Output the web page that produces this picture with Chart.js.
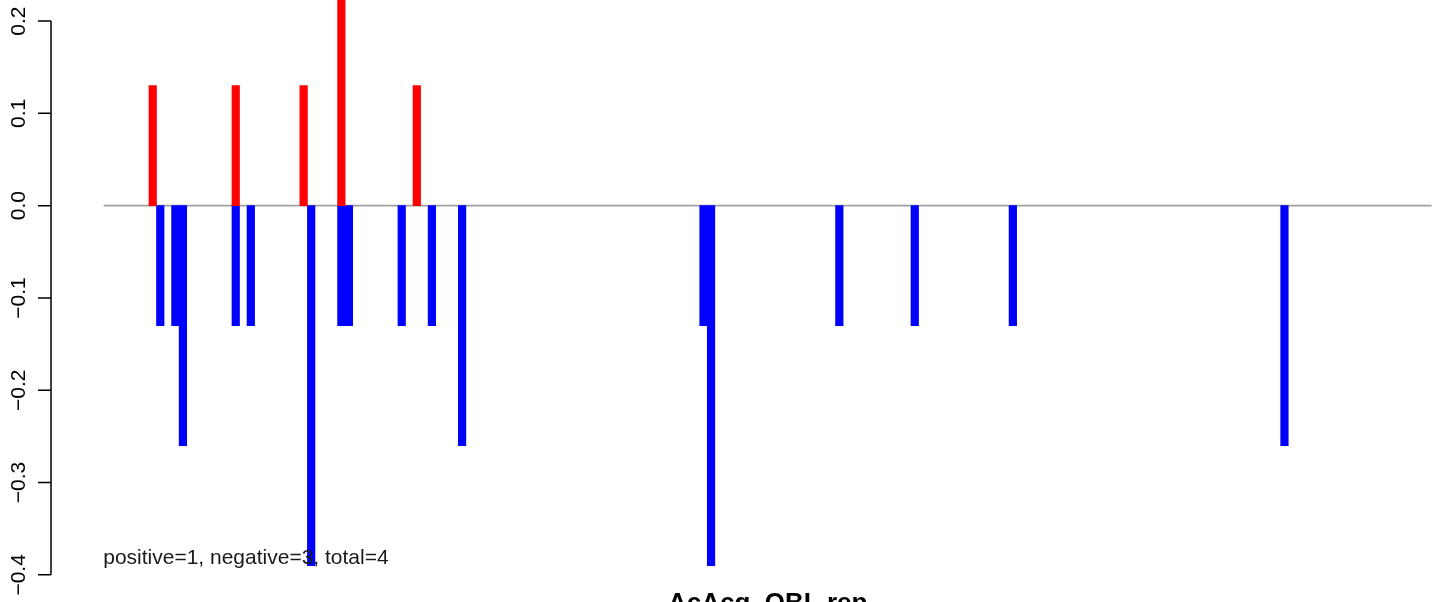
<!DOCTYPE html>
<html>
<head>
<meta charset="utf-8">
<script src="https://cdn.jsdelivr.net/npm/chart.js@4/dist/chart.umd.min.js"></script>
<style>
    html, body { margin: 0; padding: 0; background: #ffffff; }
    #wrap { width: 1444px; height: 602px; overflow: hidden; }
</style>
</head>
<body>
<div id="wrap"><canvas id="barChart" width="1444" height="602"></canvas></div>
<script>
// Slots along the x axis (most of them are empty)
const slotCount = 176;
const categories = Array.from({ length: slotCount }, (_, i) => String(i + 1));

// Positive (red) bars: slot index and value
const posIndex = [6, 17, 26, 31, 41];
const posValues = [0.13, 0.13, 0.13, 0.26, 0.13];

// Negative (blue) bars: slot index and value
const negIndex = [7, 9, 10, 17, 19, 27, 31, 32, 39, 43, 47, 79, 80, 97, 107, 120, 156];
const negValues = [-0.13, -0.13, -0.26, -0.13, -0.13, -0.39, -0.13, -0.13, -0.13, -0.13, -0.26, -0.13, -0.39, -0.13, -0.13, -0.13, -0.26];

// Y axis tick labels
const yTicks = [0.2, 0.1, 0.0, -0.1, -0.2, -0.3, -0.4];
const yTickLabels = ['0.2', '0.1', '0.0', '\u22120.1', '\u22120.2', '\u22120.3', '\u22120.4'];

const noteText = 'positive=1, negative=3, total=4';
const titleText = 'AcAcq_OBL.rep';

function toSeries(indexes, values) {
    const out = new Array(slotCount).fill(null);
    indexes.forEach((idx, i) => { out[idx] = values[i]; });
    return out;
}

const decorations = {
    id: 'decorations',
    beforeDatasetsDraw(chart) {
        const { ctx, chartArea, scales } = chart;
        const y0 = scales.y.getPixelForValue(0);
        ctx.save();
        ctx.strokeStyle = '#a0a0a0';
        ctx.lineWidth = 1.8;
        ctx.beginPath();
        ctx.moveTo(chartArea.left, y0);
        ctx.lineTo(chartArea.right, y0);
        ctx.stroke();
        ctx.restore();
    },
    afterDatasetsDraw(chart) {
        const { ctx, chartArea, scales } = chart;
        const y = scales.y;
        const axisX = 51;

        ctx.save();
        // y axis line and ticks
        ctx.strokeStyle = '#000000';
        ctx.lineWidth = 1.5;
        ctx.beginPath();
        ctx.moveTo(axisX, y.getPixelForValue(yTicks[0]));
        ctx.lineTo(axisX, y.getPixelForValue(yTicks[yTicks.length - 1]));
        yTicks.forEach(v => {
            const py = y.getPixelForValue(v);
            ctx.moveTo(axisX, py);
            ctx.lineTo(axisX - 13, py);
        });
        ctx.stroke();

        // rotated tick labels
        ctx.fillStyle = '#000000';
        ctx.font = '21px "Liberation Sans", Arial, sans-serif';
        ctx.textAlign = 'center';
        ctx.textBaseline = 'alphabetic';
        yTicks.forEach((v, i) => {
            const py = y.getPixelForValue(v);
            ctx.save();
            ctx.translate(25, py);
            ctx.rotate(-Math.PI / 2);
            ctx.fillText(yTickLabels[i], 0, 0);
            ctx.restore();
        });

        // summary note
        ctx.textAlign = 'left';
        ctx.fillStyle = '#1a1a1a';
        ctx.fillText(noteText, chartArea.left - 0.5, 564);

        // bottom title (cut off by the frame)
        ctx.fillStyle = '#000000';
        ctx.font = 'bold 26px "Liberation Sans", Arial, sans-serif';
        ctx.textAlign = 'center';
        ctx.fillText(titleText, (chartArea.left + chartArea.right) / 2, 611);
        ctx.restore();
    }
};

document.addEventListener('DOMContentLoaded', () => {
    const ctx = document.getElementById('barChart');
    new Chart(ctx, {
        type: 'bar',
        data: {
            labels: categories,
            datasets: [
                {
                    label: 'positive',
                    data: toSeries(posIndex, posValues),
                    backgroundColor: '#ff0000',
                    borderWidth: 0,
                    barPercentage: 1.0,
                    categoryPercentage: 1.0
                },
                {
                    label: 'negative',
                    data: toSeries(negIndex, negValues),
                    backgroundColor: '#0000ff',
                    borderWidth: 0,
                    barPercentage: 1.0,
                    categoryPercentage: 1.0
                }
            ]
        },
        options: {
            responsive: false,
            animation: false,
            devicePixelRatio: 1,
            layout: {
                padding: { left: 103.7, right: 12.4, top: 0, bottom: 0 }
            },
            plugins: {
                legend: { display: false },
                tooltip: { enabled: false }
            },
            scales: {
                x: {
                    display: false,
                    stacked: true
                },
                y: {
                    display: false,
                    min: -0.4294,
                    max: 0.2228
                }
            }
        },
        plugins: [decorations]
    });
});
</script>
</body>
</html>
